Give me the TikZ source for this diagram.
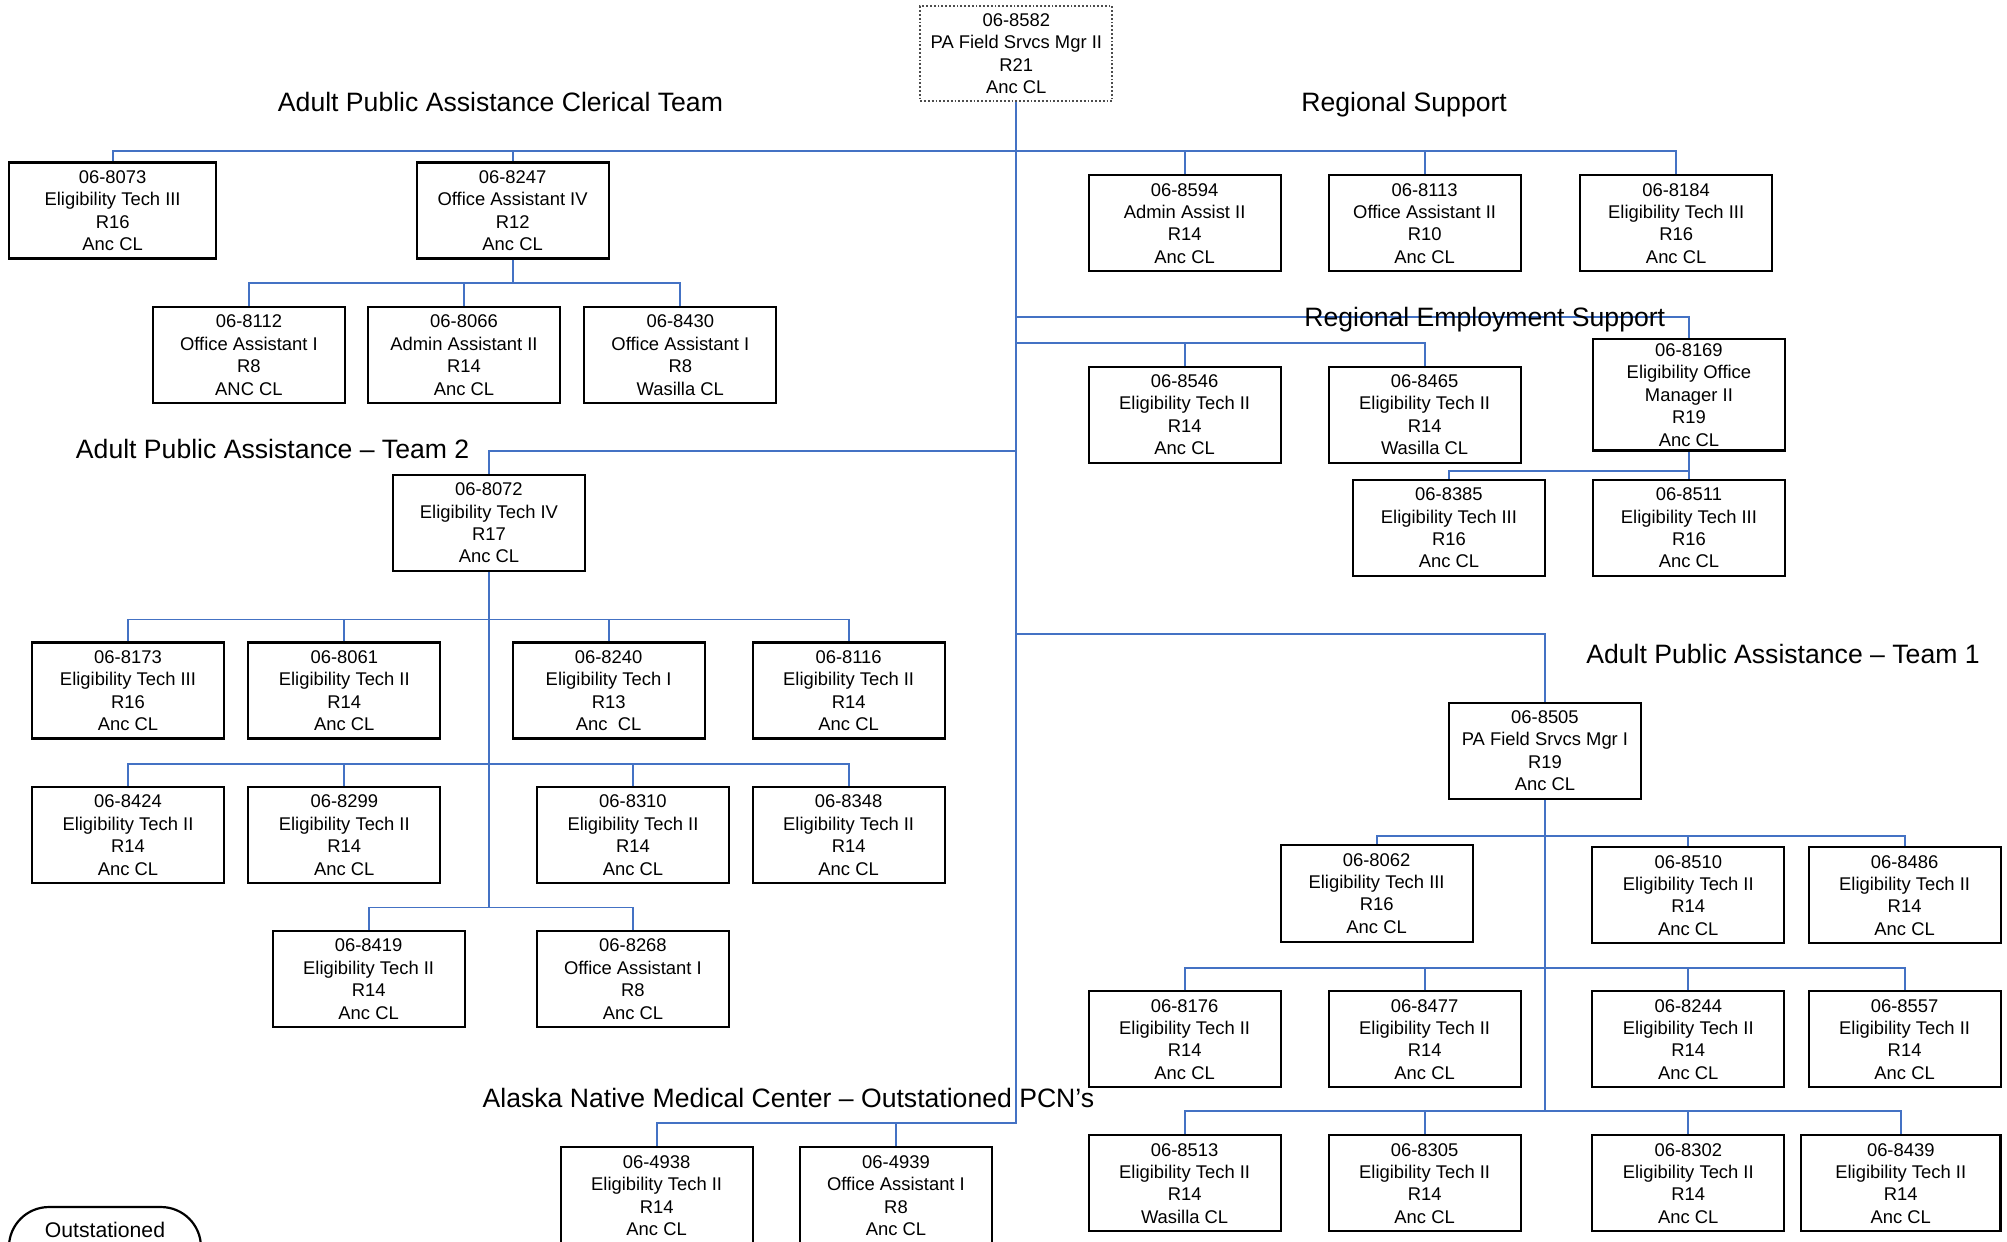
\documentclass[tikz,border=0pt]{standalone}
\usepackage{fontspec}
\setmainfont{Liberation Sans}
\definecolor{lineblue}{RGB}{68,114,196}
\begin{document}
\begin{tikzpicture}[x=0.64pt,y=-0.64pt,
  pbox/.style={draw=black, line width=1.1pt, fill=white, minimum width=96pt, minimum height=48pt, inner sep=0pt, align=center, font=\fontsize{9.2}{11.2}\selectfont},
  topbox/.style={pbox, draw=black!70, line width=0.9pt, densely dotted},
  conn/.style={draw=lineblue, line width=0.95pt},
  head/.style={font=\fontsize{13.3}{16}\selectfont, inner sep=0pt, text height=10pt, text depth=3pt}]
\useasboundingbox (0,0) rectangle (1568,970);

% ---------- boxes ----------
\node[topbox, minimum height=47.4pt] (top) at (794,42) {06-8582\\PA Field Srvcs Mgr II\\R21\\Anc CL};

\node[pbox, minimum width=103.7pt] (n8073) at (88,164.5) {06-8073\\Eligibility Tech III\\R16\\Anc CL};
\node[pbox] (n8247) at (400.5,164.5) {06-8247\\Office Assistant IV\\R12\\Anc CL};
\node[pbox] (n8594) at (925.5,174.5) {06-8594\\Admin Assist II\\R14\\Anc CL};
\node[pbox] (n8113) at (1113,174.5) {06-8113\\Office Assistant II\\R10\\Anc CL};
\node[pbox] (n8184) at (1309.5,174.5) {06-8184\\Eligibility Tech III\\R16\\Anc CL};

\node[pbox] (n8112) at (194.5,277.5) {06-8112\\Office Assistant I\\R8\\ANC CL};
\node[pbox] (n8066) at (362.5,277.5) {06-8066\\Admin Assistant II\\R14\\Anc CL};
\node[pbox] (n8430) at (531.5,277.5) {06-8430\\Office Assistant I\\R8\\Wasilla CL};

\node[pbox] (n8546) at (925.5,324) {06-8546\\Eligibility Tech II\\R14\\Anc CL};
\node[pbox] (n8465) at (1113,324) {06-8465\\Eligibility Tech II\\R14\\Wasilla CL};
\node[pbox, minimum height=55.7pt] (n8169) at (1319.5,308.5) {06-8169\\Eligibility Office\\Manager II\\R19\\Anc CL};
\node[pbox] (n8385) at (1132,412.5) {06-8385\\Eligibility Tech III\\R16\\Anc CL};
\node[pbox] (n8511) at (1319.5,412.5) {06-8511\\Eligibility Tech III\\R16\\Anc CL};

\node[pbox] (n8072) at (382,408.5) {06-8072\\Eligibility Tech IV\\R17\\Anc CL};
\node[pbox] (n8173) at (100,539.5) {06-8173\\Eligibility Tech III\\R16\\Anc CL};
\node[pbox] (n8061) at (269,539.5) {06-8061\\Eligibility Tech II\\R14\\Anc CL};
\node[pbox] (n8240) at (475.5,539.5) {06-8240\\Eligibility Tech I\\R13\\Anc\ \ CL};
\node[pbox] (n8116) at (663,539.5) {06-8116\\Eligibility Tech II\\R14\\Anc CL};
\node[pbox] (n8424) at (100,652.5) {06-8424\\Eligibility Tech II\\R14\\Anc CL};
\node[pbox] (n8299) at (269,652.5) {06-8299\\Eligibility Tech II\\R14\\Anc CL};
\node[pbox] (n8310) at (494.5,652.5) {06-8310\\Eligibility Tech II\\R14\\Anc CL};
\node[pbox] (n8348) at (663,652.5) {06-8348\\Eligibility Tech II\\R14\\Anc CL};
\node[pbox] (n8419) at (288,765) {06-8419\\Eligibility Tech II\\R14\\Anc CL};
\node[pbox] (n8268) at (494.5,765) {06-8268\\Office Assistant I\\R8\\Anc CL};

\node[pbox, minimum height=48.6pt] (n4938) at (513,934) {06-4938\\Eligibility Tech II\\R14\\Anc CL};
\node[pbox, minimum height=48.6pt] (n4939) at (700,934) {06-4939\\Office Assistant I\\R8\\Anc CL};

\node[pbox] (n8505) at (1207,586.5) {06-8505\\PA Field Srvcs Mgr I\\R19\\Anc CL};
\node[pbox, minimum height=48.6pt] (n8062) at (1075.5,698) {06-8062\\Eligibility Tech III\\R16\\Anc CL};
\node[pbox] (n8510) at (1319,699.5) {06-8510\\Eligibility Tech II\\R14\\Anc CL};
\node[pbox] (n8486) at (1488,699.5) {06-8486\\Eligibility Tech II\\R14\\Anc CL};
\node[pbox] (n8176) at (925.5,812) {06-8176\\Eligibility Tech II\\R14\\Anc CL};
\node[pbox] (n8477) at (1113,812) {06-8477\\Eligibility Tech II\\R14\\Anc CL};
\node[pbox] (n8244) at (1319,812) {06-8244\\Eligibility Tech II\\R14\\Anc CL};
\node[pbox] (n8557) at (1488,812) {06-8557\\Eligibility Tech II\\R14\\Anc CL};
\node[pbox] (n8513) at (925.5,924.5) {06-8513\\Eligibility Tech II\\R14\\Wasilla CL};
\node[pbox] (n8305) at (1113,924.5) {06-8305\\Eligibility Tech II\\R14\\Anc CL};
\node[pbox] (n8302) at (1319,924.5) {06-8302\\Eligibility Tech II\\R14\\Anc CL};
\node[pbox, minimum width=99.8pt] (n8439) at (1485,924.5) {06-8439\\Eligibility Tech II\\R14\\Anc CL};

% ---------- junction coordinates ----------
\coordinate (r1) at (794,118);
\coordinate (c1) at (400.5,221);
\coordinate (re1) at (794,248);
\coordinate (re2) at (794,268);
\coordinate (re3) at (1319.5,368);
\coordinate (t2) at (794,352);
\coordinate (t2a) at (382,484);
\coordinate (t2b) at (382,597);
\coordinate (t2c) at (382,709);
\coordinate (t1) at (794,495);
\coordinate (t1a) at (1207,653);
\coordinate (t1b) at (1207,756);
\coordinate (t1c) at (1207,868);
\coordinate (tend) at (794,877);

% ---------- connectors ----------
\draw[conn] (top.south) -- (tend) -| (n4938.north);
\draw[conn] (n4939.north) -- (n4939.north |- tend);

\draw[conn] (n8073.north) |- (r1) -| (n8184.north);
\draw[conn] (n8247.north) -- (n8247.north |- r1);
\draw[conn] (n8594.north) -- (n8594.north |- r1);
\draw[conn] (n8113.north) -- (n8113.north |- r1);

\draw[conn] (n8247.south) -- (c1);
\draw[conn] (n8112.north) |- (c1) -| (n8430.north);
\draw[conn] (n8066.north) -- (n8066.north |- c1);

\draw[conn] (re1) -| (n8169.north);
\draw[conn] (re2) -| (n8465.north);
\draw[conn] (n8546.north) -- (n8546.north |- re2);
\draw[conn] (n8169.south) -- (n8511.north);
\draw[conn] (re3) -| (n8385.north);

\draw[conn] (t2) -| (n8072.north);
\draw[conn] (n8072.south) -- (t2c);
\draw[conn] (n8173.north) |- (t2a) -| (n8116.north);
\draw[conn] (n8061.north) -- (n8061.north |- t2a);
\draw[conn] (n8240.north) -- (n8240.north |- t2a);
\draw[conn] (n8424.north) |- (t2b) -| (n8348.north);
\draw[conn] (n8299.north) -- (n8299.north |- t2b);
\draw[conn] (n8310.north) -- (n8310.north |- t2b);
\draw[conn] (n8419.north) |- (t2c) -| (n8268.north);

\draw[conn] (t1) -| (n8505.north);
\draw[conn] (n8505.south) -- (t1c);
\draw[conn] (n8062.north) |- (t1a) -| (n8486.north);
\draw[conn] (n8510.north) -- (n8510.north |- t1a);
\draw[conn] (n8176.north) |- (t1b) -| (n8557.north);
\draw[conn] (n8477.north) -- (n8477.north |- t1b);
\draw[conn] (n8244.north) -- (n8244.north |- t1b);
\draw[conn] (n8513.north) |- (t1c) -| (n8439.north);
\draw[conn] (n8305.north) -- (n8305.north |- t1c);
\draw[conn] (n8302.north) -- (n8302.north |- t1c);

% ---------- headings ----------
\node[head] (h1) at (391,82) {Adult Public Assistance Clerical Team};
\node[head] (h2) at (1097,82) {Regional Support};
\node[head] (h3) at (1160,250) {Regional Employment Support};
\node[head] (h4) at (213,353) {Adult Public Assistance – Team 2};
\node[head] (h5) at (1393,513) {Adult Public Assistance – Team 1};
\node[head] (h6) at (616,860) {Alaska Native Medical Center – Outstationed PCN’s};

% ---------- legend shape ----------
\draw[line width=1.1pt, rounded corners=20pt] (7,1010) -- (7,943) -- (157,943) -- (157,1010);
\node[inner sep=0pt, font=\fontsize{10.6}{12}\selectfont] (outst) at (82,961) {Outstationed};
\end{tikzpicture}
\end{document}
